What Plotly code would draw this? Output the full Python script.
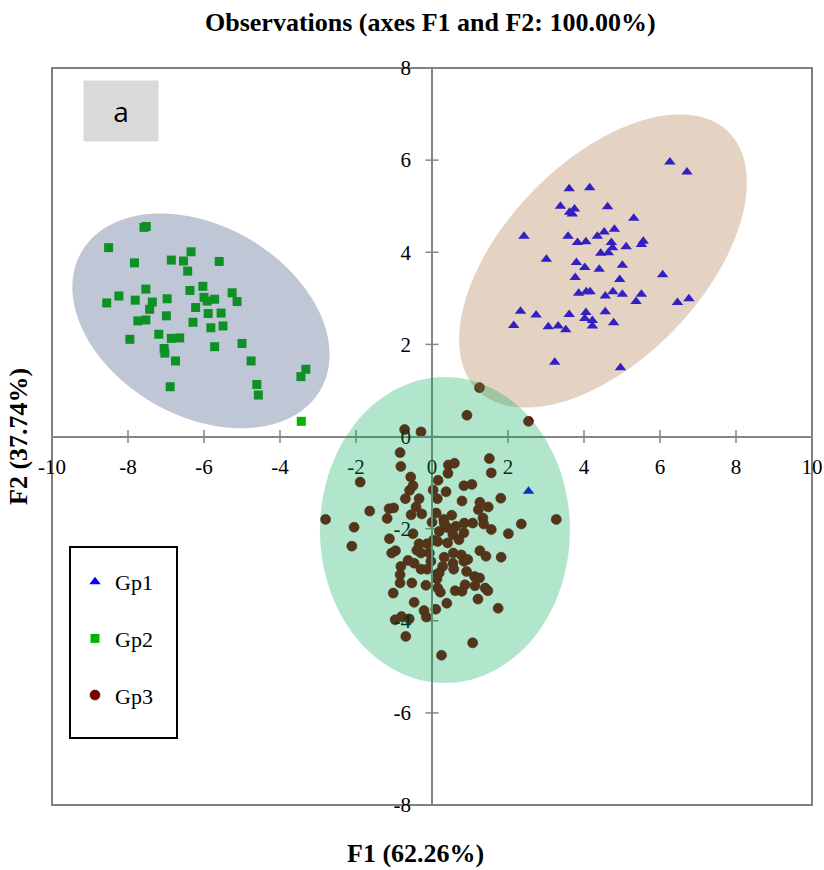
import numpy as np
import plotly.graph_objects as go

# ---------------- data ----------------
gp1_x = [6.26, 6.71, 3.61, 4.15, 3.38, 3.62, 3.75, 3.69, 4.62, 5.31, 2.42, 3.58, 3.83, 4.05, 4.35,
         4.53, 4.80, 4.72, 4.75, 4.44, 4.64, 5.11, 5.51, 5.56, 3.01, 3.80, 4.02, 4.40, 5.01, 3.77,
         4.94, 6.07, 3.86, 4.06, 4.16, 4.56, 4.76, 5.01, 5.51, 5.37, 6.46, 6.76, 2.33, 2.74, 3.61,
         4.05, 4.02, 4.22, 4.56, 4.78, 2.15, 3.06, 3.32, 3.52, 4.22, 3.23, 4.96, 2.54]
gp1_y = [5.96, 5.74, 5.38, 5.40, 5.00, 4.87, 4.94, 4.83, 4.99, 4.74, 4.35, 4.35, 4.21, 4.23, 4.35,
         4.44, 4.50, 4.21, 4.10, 3.98, 3.99, 4.12, 4.17, 4.24, 3.85, 3.78, 3.67, 3.63, 3.72, 3.45,
         3.41, 3.51, 3.11, 3.14, 3.14, 3.05, 3.14, 3.09, 3.09, 2.93, 2.91, 2.99, 2.72, 2.64, 2.65,
         2.69, 2.56, 2.52, 2.71, 2.47, 2.41, 2.38, 2.40, 2.32, 2.40, 1.61, 1.49, -1.19]

gp2_x = [-7.58, -7.52, -8.51, -7.83, -6.86, -6.34, -6.54, -6.43, -5.60, -7.53, -8.24, -8.56, -7.81,
         -7.36, -7.43, -6.97, -6.37, -6.03, -6.00, -5.72, -5.92, -5.26, -5.13, -6.22, -5.89, -5.55,
         -6.99, -7.53, -7.74, -6.29, -5.82, -5.50, -7.95, -7.19, -6.86, -6.64, -7.05, -7.03, -6.75,
         -5.72, -5.00, -4.76, -3.32, -3.45, -4.61, -4.57, -6.89, -3.44]
gp2_y = [4.54, 4.56, 4.10, 3.77, 3.83, 4.01, 3.81, 3.59, 3.80, 3.20, 3.05, 2.90, 2.96,
         2.92, 2.76, 2.99, 3.17, 3.26, 3.02, 2.98, 2.94, 3.12, 2.93, 2.80, 2.67, 2.68,
         2.62, 2.53, 2.51, 2.48, 2.36, 2.40, 2.11, 2.22, 2.13, 2.14, 1.91, 1.81, 1.64,
         1.95, 2.02, 1.64, 1.46, 1.30, 1.13, 0.90, 1.08, 0.33]

gp3_x = [1.25, 0.92, 2.54, -0.72, -0.29, -0.84, -0.82, 0.43, 0.59, 0.42, 1.51, 1.56, -1.89, -0.56,
         0.16, -0.50, -0.59, 0.03, 0.37, 0.84, 1.05, 1.81, -0.70, -0.34, 0.14, 0.79, 1.26, -1.64,
         -1.13, -1.01, -0.42, -2.80, -1.18, -0.55, -0.27, 0.11, 1.22, 1.48, -2.05, 0.00, 0.31, 0.52,
         1.34, 1.36, 2.35, 1.56, 2.01, -0.50, -1.12, -2.11, -1.06, -0.96, -0.34, -0.40, -0.13, 0.04,
         0.19, 0.41, 0.32, 0.63, 0.85, 1.07, 0.55, 0.84, 0.71, 0.41, 0.15, -0.29, -0.07, 0.56, 0.77,
         1.26, 1.42, 1.82, -0.63, -0.47, -0.29, -0.13, -0.03, 0.32, 0.55, 0.84, 0.94, 0.28, 0.57,
         0.91, -0.82, -0.84, 0.11, 0.19, 0.13, 1.12, 1.25, -0.84, -0.53, -0.16, 0.15, 0.22, 0.61,
         0.79, 0.87, 1.13, 1.40, 1.47, -1.02, 1.21, -0.47, 0.39, 0.10, -0.21, -0.15, 1.74, -0.97,
         -0.80, -0.60, -0.69, 1.07, 0.25, 3.27]
gp3_y = [1.06, 0.46, 0.33, 0.15, 0.10, -0.35, -0.65, -0.62, -0.58, -0.80, -0.48, -0.79, -0.99, -0.88,
         -0.95, -1.07, -1.17, -1.16, -1.20, -1.07, -1.04, -1.34, -1.35, -1.35, -1.35, -1.40, -1.43, -1.62,
         -1.57, -1.55, -1.53, -1.80, -1.78, -1.70, -1.68, -1.66, -1.59, -1.53, -1.97, -1.86, -1.80, -1.71,
         -1.77, -1.90, -1.90, -2.02, -2.11, -2.11, -2.22, -2.38, -2.53, -2.48, -2.33, -2.47, -2.33, -2.25,
         -2.06, -1.98, -1.88, -1.95, -1.88, -1.88, -2.13, -2.09, -2.24, -2.31, -2.28, -2.53, -2.53, -2.53, -2.57,
         -2.48, -2.60, -2.62, -2.69, -2.75, -2.88, -2.88, -2.71, -2.62, -2.75, -2.71, -2.67, -2.82, -2.88,
         -2.93, -2.82, -3.00, -3.00, -2.96, -3.09, -3.04, -3.07, -3.18, -3.18, -3.23, -3.29, -3.38, -3.35,
         -3.36, -3.22, -3.24, -3.29, -3.35, -3.40, -3.53, -3.60, -3.62, -3.75, -3.78, -3.92, -3.73, -3.98,
         -3.91, -3.96, -4.34, -4.48, -4.75, -1.80]

group_names = ["Gp1", "Gp2", "Gp3"]
x_ticks = [-10, -8, -6, -4, -2, 0, 2, 4, 6, 8, 10]
y_ticks = [-8, -6, -4, -2, 0, 2, 4, 6, 8]

# confidence ellipses: centre (data), semi-axes (px), rotation (deg, screen-up positive)
ellipses = [
    dict(cx=-6.08, cy=2.51, a=138, b=95, ang=-30, color="rgb(44,66,118)"),
    dict(cx=4.50, cy=3.81, a=180, b=99, ang=46, color="rgb(165,105,55)"),
    dict(cx=0.34, cy=-2.03, a=125, b=153, ang=0, color="rgb(0,172,85)"),
]

# ---------------- layout geometry ----------------
W, H = 824, 870
ml, mr, mt, mb = 52, 12, 68, 65
pw, ph = W - ml - mr, H - mt - mb
xr, yr = [-10, 10], [-8, 8]
kx = pw / (xr[1] - xr[0])
ky = ph / (yr[1] - yr[0])

serif = "Liberation Serif, Times New Roman, serif"
axis_col = "#858585"

fig = go.Figure()
fig.add_trace(go.Scatter(x=gp1_x, y=gp1_y, mode="markers", name=group_names[0], legendgroup="g1",
                         marker=dict(symbol="triangle-up", size=10, color="#0000ff")))
fig.add_trace(go.Scatter(x=gp2_x, y=gp2_y, mode="markers", name=group_names[1], legendgroup="g2",
                         marker=dict(symbol="square", size=9, color="#00b400")))
fig.add_trace(go.Scatter(x=gp3_x, y=gp3_y, mode="markers", name=group_names[2], legendgroup="g3",
                         marker=dict(symbol="circle", size=10, color="#7a0000",
                                     line=dict(width=0.6, color="#5a0000"))))

shapes = []
# crossing tick marks
for v in x_ticks:
    shapes.append(dict(type="line", xref="x", yref="y", x0=v, x1=v, ysizemode="pixel", yanchor=0,
                       y0=-6.5, y1=6.5, line=dict(color=axis_col, width=1.5), layer="below"))
for v in y_ticks:
    shapes.append(dict(type="line", xref="x", yref="y", y0=v, y1=v, xsizemode="pixel", xanchor=0,
                       x0=-6.5, x1=6.5, line=dict(color=axis_col, width=1.5), layer="below"))

# ellipses (drawn over the points, semi-transparent)
t = np.linspace(0, 2 * np.pi, 121)
for e in ellipses:
    th = np.deg2rad(e["ang"])
    dxp = e["a"] * np.cos(t) * np.cos(th) - e["b"] * np.sin(t) * np.sin(th)
    dyp = e["a"] * np.cos(t) * np.sin(th) + e["b"] * np.sin(t) * np.cos(th)
    xs = e["cx"] + dxp / kx
    ys = e["cy"] + dyp / ky
    path = "M " + " L ".join(f"{a:.4f},{b:.4f}" for a, b in zip(xs, ys)) + " Z"
    shapes.append(dict(type="path", xref="x", yref="y", path=path, fillcolor=e["color"],
                       opacity=0.3, line=dict(width=0), layer="above"))

def px2paper_x(p):
    return (p - ml) / pw
def px2paper_y(p):
    return (H - mb - p) / ph

# plot border
shapes.append(dict(type="rect", xref="paper", yref="paper", x0=0, x1=1, y0=0, y1=1,
                   line=dict(color="#808080", width=2), layer="below"))
# legend frame
shapes.append(dict(type="rect", xref="paper", yref="paper", x0=px2paper_x(70), x1=px2paper_x(177),
                   y0=px2paper_y(738), y1=px2paper_y(547), fillcolor="white",
                   line=dict(color="black", width=2), layer="above"))

annotations = [
    dict(text="<b>Observations (axes F1 and F2: 100.00%)</b>", xref="paper", yref="paper",
         x=px2paper_x(430), y=px2paper_y(22), xanchor="center", yanchor="middle", showarrow=False,
         font=dict(family=serif, size=26, color="black")),
    dict(text="<b>F1 (62.26%)</b>", xref="paper", yref="paper", x=px2paper_x(415), y=px2paper_y(853),
         xanchor="center", yanchor="middle", showarrow=False, font=dict(family=serif, size=26, color="black")),
    dict(text="<b>F2 (37.74%)</b>", xref="paper", yref="paper", x=px2paper_x(18), y=px2paper_y(437),
         xanchor="center", yanchor="middle", showarrow=False, textangle=-90,
         font=dict(family=serif, size=26, color="black")),
    dict(text="a", xref="paper", yref="paper", x=px2paper_x(121), y=px2paper_y(111), showarrow=False,
         xanchor="center", yanchor="middle", bgcolor="#d9d9d9", width=72, height=58,
         font=dict(family="Open Sans, Liberation Sans, sans-serif", size=28, color="black")),
]

fig.update_layout(
    width=W, height=H, margin=dict(l=ml, r=mr, t=mt, b=mb, autoexpand=False),
    plot_bgcolor="white", paper_bgcolor="white",
    shapes=shapes, annotations=annotations,
    showlegend=True,
    legend=dict(x=px2paper_x(75), y=px2paper_y(561), xanchor="left", yanchor="top",
                bgcolor="rgba(0,0,0,0)", borderwidth=0, tracegroupgap=25,
                font=dict(family=serif, size=22, color="black")),
    xaxis=dict(range=xr, tickvals=x_ticks, ticktext=[str(v) for v in x_ticks], showgrid=False,
               zeroline=False, showline=True, linecolor=axis_col, linewidth=1.5, automargin=False,
               anchor="free", position=0.5, ticks="", ticklabelstandoff=12,
               tickfont=dict(family=serif, size=21, color="black")),
    yaxis=dict(range=yr, tickvals=y_ticks, ticktext=[str(v) for v in y_ticks], showgrid=False,
               zeroline=False, showline=True, linecolor=axis_col, linewidth=1.5, automargin=False,
               anchor="free", position=0.5, ticks="", ticklabelstandoff=16,
               tickfont=dict(family=serif, size=21, color="black")),
)

fig.write_html("out.html", config={"displayModeBar": False},
               post_script="document.body.style.margin='0px';")
